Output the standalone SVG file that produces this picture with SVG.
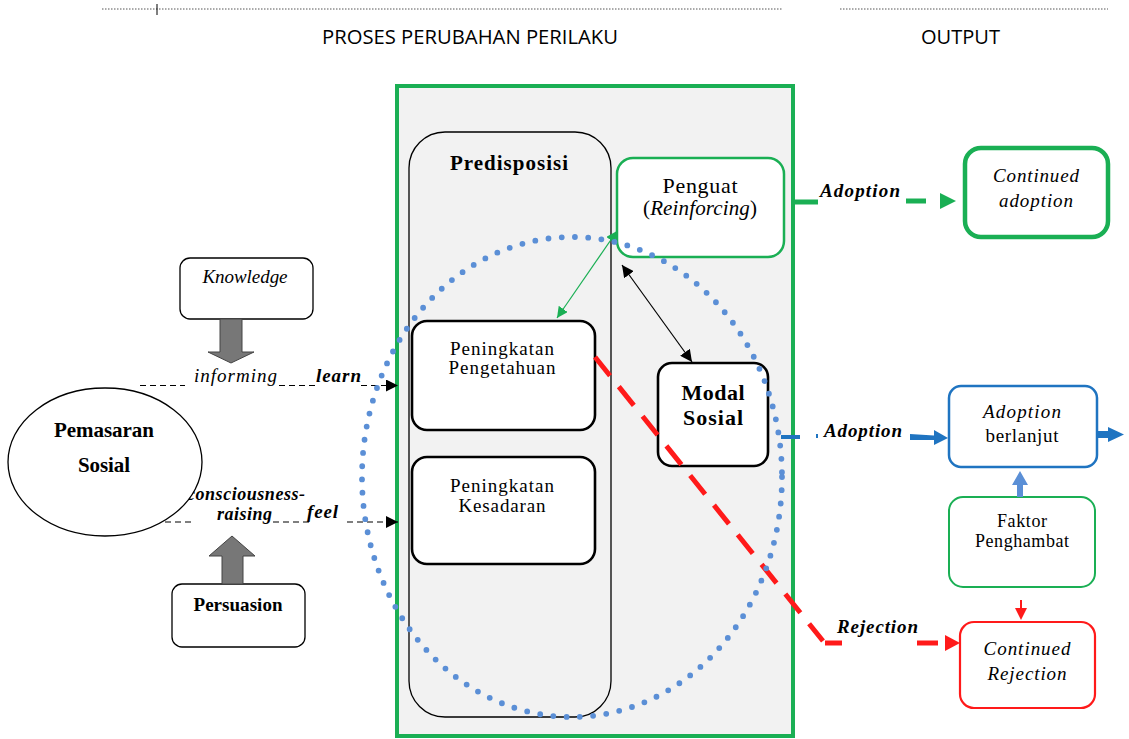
<svg xmlns="http://www.w3.org/2000/svg" width="1129" height="739" viewBox="0 0 1129 739">
<defs>
<style>
.serif{font-family:"Liberation Serif","Times New Roman",serif;fill:#000}
.sans{font-family:"Open Sans","Liberation Sans",sans-serif;fill:#000}
.box{fill:#fff;stroke:#000;stroke-width:1.3}
.bbox{fill:#fff;stroke:#000;stroke-width:2.6}
.dash{stroke:#000;stroke-width:1.2;stroke-dasharray:6 4;fill:none}
.gray{fill:#777;stroke:#444;stroke-width:1}
</style>
<marker id="blk" viewBox="0 0 10 10" refX="10" refY="5" markerWidth="12" markerHeight="12" markerUnits="userSpaceOnUse" orient="auto-start-reverse"><path d="M0,0 L10,5 L0,10 z" fill="#000"/></marker>
<marker id="grn" viewBox="0 0 10 10" refX="10" refY="5" markerWidth="11" markerHeight="11" markerUnits="userSpaceOnUse" orient="auto-start-reverse"><path d="M0,0 L10,5 L0,10 z" fill="#1aaf54"/></marker>
</defs>
<rect width="1129" height="739" fill="#fff"/>

<!-- header -->
<g id="header">
<line x1="102" y1="9" x2="783" y2="9" stroke="#555" stroke-width="1" stroke-dasharray="1.5 1.5"/>
<line x1="840" y1="9" x2="1108" y2="9" stroke="#555" stroke-width="1" stroke-dasharray="1.5 1.5"/>
<line x1="157" y1="4" x2="157" y2="15" stroke="#000" stroke-width="1"/>
<text class="sans" x="322" y="44" font-size="20" textLength="296" lengthAdjust="spacingAndGlyphs">PROSES PERUBAHAN PERILAKU</text>
<text class="sans" x="921" y="44" font-size="20" textLength="79" lengthAdjust="spacingAndGlyphs">OUTPUT</text>
</g>

<!-- main green container -->
<g id="proses">
<rect x="397" y="86" width="396" height="650" fill="#f2f2f2" stroke="#1aaf54" stroke-width="4"/>
</g>

<g id="predisposisi">
<rect x="409" y="132" width="202" height="585" rx="36" fill="#f2f2f2" stroke="#000" stroke-width="1.3"/>
<text class="serif" x="509" y="170" font-size="21" font-weight="bold" text-anchor="middle" textLength="118">Predisposisi</text>
</g>

<g id="penguat">
<rect x="617" y="158" width="167" height="99" rx="16" fill="#fff" stroke="#1aaf54" stroke-width="2.5"/>
<text class="serif" x="700" y="193" font-size="22" text-anchor="middle" textLength="75">Penguat</text>
<text class="serif" x="700" y="215" font-size="21" text-anchor="middle" textLength="114">(<tspan font-style="italic">Reinforcing</tspan>)</text>
</g>

<g id="pengetahuan">
<rect x="412" y="321" width="183" height="109" rx="15" class="bbox"/>
<text class="serif" x="502" y="355" font-size="19" text-anchor="middle" textLength="104">Peningkatan</text>
<text class="serif" x="502" y="374" font-size="19" text-anchor="middle" textLength="107">Pengetahuan</text>
</g>

<g id="kesadaran">
<rect x="412" y="457" width="183" height="107" rx="15" class="bbox"/>
<text class="serif" x="502" y="492" font-size="19" text-anchor="middle" textLength="104">Peningkatan</text>
<text class="serif" x="502" y="512" font-size="19" text-anchor="middle" textLength="87">Kesadaran</text>
</g>

<g id="modal">
<rect x="658" y="363" width="110" height="103" rx="14" class="bbox"/>
<text class="serif" x="713" y="400" font-size="22" font-weight="bold" text-anchor="middle" textLength="63">Modal</text>
<text class="serif" x="713" y="425" font-size="22" font-weight="bold" text-anchor="middle" textLength="60">Sosial</text>
</g>

<!-- left side -->
<g id="knowledge">
<rect x="180" y="258" width="133" height="61" rx="10" class="box"/>
<text class="serif" x="245" y="283" font-size="19" font-style="italic" text-anchor="middle" textLength="85">Knowledge</text>
<path class="gray" d="M220,319 L242,319 L242,352 L254,352 L231,363 L208,352 L220,352 z"/>
</g>

<g id="persuasion">
<rect x="172" y="584" width="133" height="63" rx="10" class="box"/>
<text class="serif" x="238" y="611" font-size="19" font-weight="bold" text-anchor="middle" textLength="89">Persuasion</text>
<path class="gray" d="M222,584 L243,584 L243,556 L255,556 L232,536 L209,556 L222,556 z"/>
</g>

<g id="labels-left">
<text class="serif" x="194" y="382" font-size="19" font-style="italic" textLength="83">informing</text>
<text class="serif" x="316" y="382" font-size="19" font-style="italic" font-weight="bold" textLength="45">learn</text>
<text class="serif" x="187" y="500" font-size="18" font-style="italic" font-weight="bold" textLength="118">consciousness-</text>
<text class="serif" x="217" y="520" font-size="18" font-style="italic" font-weight="bold" textLength="55">raising</text>
<text class="serif" x="307" y="518" font-size="19" font-style="italic" font-weight="bold" textLength="31">feel</text>
</g>

<g id="pemasaran">
<ellipse cx="105" cy="462" rx="97" ry="74" fill="#fff" stroke="#000" stroke-width="1.3"/>
<text class="serif" x="104" y="437" font-size="21" font-weight="bold" text-anchor="middle" textLength="100">Pemasaran</text>
<text class="serif" x="104" y="472" font-size="21" font-weight="bold" text-anchor="middle" textLength="52">Sosial</text>
</g>

<!-- output boxes -->
<g id="continued-adoption">
<rect x="965" y="148" width="143" height="89" rx="16" fill="#fff" stroke="#1aaf54" stroke-width="4.5"/>
<text class="serif" x="1036" y="182" font-size="19" font-style="italic" text-anchor="middle" textLength="86">Continued</text>
<text class="serif" x="1036" y="207" font-size="19" font-style="italic" text-anchor="middle" textLength="74">adoption</text>
</g>

<g id="adoption-berlanjut">
<rect x="949" y="386" width="148" height="81" rx="12" fill="#fff" stroke="#1f74c1" stroke-width="2.5"/>
<text class="serif" x="1022" y="418" font-size="19" font-style="italic" text-anchor="middle" textLength="78">Adoption</text>
<text class="serif" x="1022" y="442" font-size="19" text-anchor="middle" textLength="73">berlanjut</text>
</g>

<g id="faktor">
<rect x="949" y="497" width="146" height="90" rx="14" fill="#fff" stroke="#1aaf54" stroke-width="2"/>
<text class="serif" x="1022" y="527" font-size="18" text-anchor="middle" textLength="50">Faktor</text>
<text class="serif" x="1022" y="547" font-size="18" text-anchor="middle" textLength="94">Penghambat</text>
</g>

<g id="continued-rejection">
<rect x="960" y="622" width="135" height="86" rx="14" fill="#fff" stroke="#ff1a1a" stroke-width="2.2"/>
<text class="serif" x="1027" y="655" font-size="19" font-style="italic" text-anchor="middle" textLength="87">Continued</text>
<text class="serif" x="1027" y="680" font-size="19" font-style="italic" text-anchor="middle" textLength="79">Rejection</text>
</g>

<!-- connectors -->
<g id="connectors">
<!-- learn -->
<line class="dash" x1="140" y1="385.5" x2="185" y2="385.5"/>
<line class="dash" x1="279" y1="385.5" x2="315" y2="385.5"/>
<line class="dash" x1="361" y1="385.5" x2="398" y2="385.5" marker-end="url(#blk)"/>
<!-- feel -->
<line class="dash" x1="165" y1="522" x2="195" y2="522"/>
<line class="dash" x1="273" y1="522" x2="312" y2="522"/>
<line class="dash" x1="347" y1="522" x2="398" y2="522" marker-end="url(#blk)"/>
<!-- penguat <-> pengetahuan -->
<line x1="617" y1="231" x2="557" y2="318" stroke="#1aaf54" stroke-width="1.2" marker-start="url(#grn)" marker-end="url(#grn)"/>
<!-- penguat <-> modal -->
<line x1="622" y1="265" x2="692" y2="362" stroke="#000" stroke-width="1.2" marker-start="url(#blk)" marker-end="url(#blk)"/>
<!-- green adoption -->
<line x1="793" y1="202" x2="818" y2="202" stroke="#1aaf54" stroke-width="5"/>
<text class="serif" x="820" y="197" font-size="19" font-style="italic" font-weight="bold" textLength="80">Adoption</text>
<line x1="906" y1="201" x2="926" y2="201" stroke="#1aaf54" stroke-width="5"/>
<path d="M940,193 L956,201 L940,209 z" fill="#1aaf54"/>
<!-- blue adoption -->
<line x1="781" y1="437" x2="800" y2="437" stroke="#1f74c1" stroke-width="4"/>
<line x1="816" y1="436" x2="818" y2="436" stroke="#1f74c1" stroke-width="4"/>
<text class="serif" x="824" y="437" font-size="19" font-style="italic" font-weight="bold" textLength="78">Adoption</text>
<path d="M910,434 L934,435.5 L934,430 L948,438 L934,445 L934,440 L910,440 z" fill="#1f74c1"/>
<path d="M1097,431 L1108,431 L1108,427 L1124,434.5 L1108,442 L1108,438 L1097,438 z" fill="#1f74c1"/>
<!-- faktor -> adoption berlanjut -->
<path d="M1017,497 L1017,485 L1012,485 L1020,471 L1028,485 L1023,485 L1023,497 z" fill="#5b8fd6"/>
<!-- faktor -> continued rejection -->
<line x1="1021" y1="600" x2="1021" y2="610" stroke="#ff1a1a" stroke-width="2"/>
<path d="M1015,608 L1027,608 L1021,620 z" fill="#ff1a1a"/>
<!-- rejection -->
<path d="M595,357 L823,641" stroke="#ff1a1a" stroke-width="5" stroke-dasharray="24 14" fill="none"/>
<line x1="825" y1="643" x2="842" y2="643" stroke="#ff1a1a" stroke-width="5"/>
<text class="serif" x="837" y="633" font-size="19" font-style="italic" font-weight="bold" textLength="81">Rejection</text>
<line x1="917" y1="643" x2="938" y2="643" stroke="#ff1a1a" stroke-width="5"/>
<path d="M945,635 L960,643 L945,651 z" fill="#ff1a1a"/>
</g>

<!-- dotted circle -->
<g id="circle">
<ellipse cx="572" cy="477" rx="210" ry="240" fill="none" stroke="#5b8fd6" stroke-width="5.8" stroke-dasharray="0 13.3" stroke-linecap="round"/>
</g>
</svg>
